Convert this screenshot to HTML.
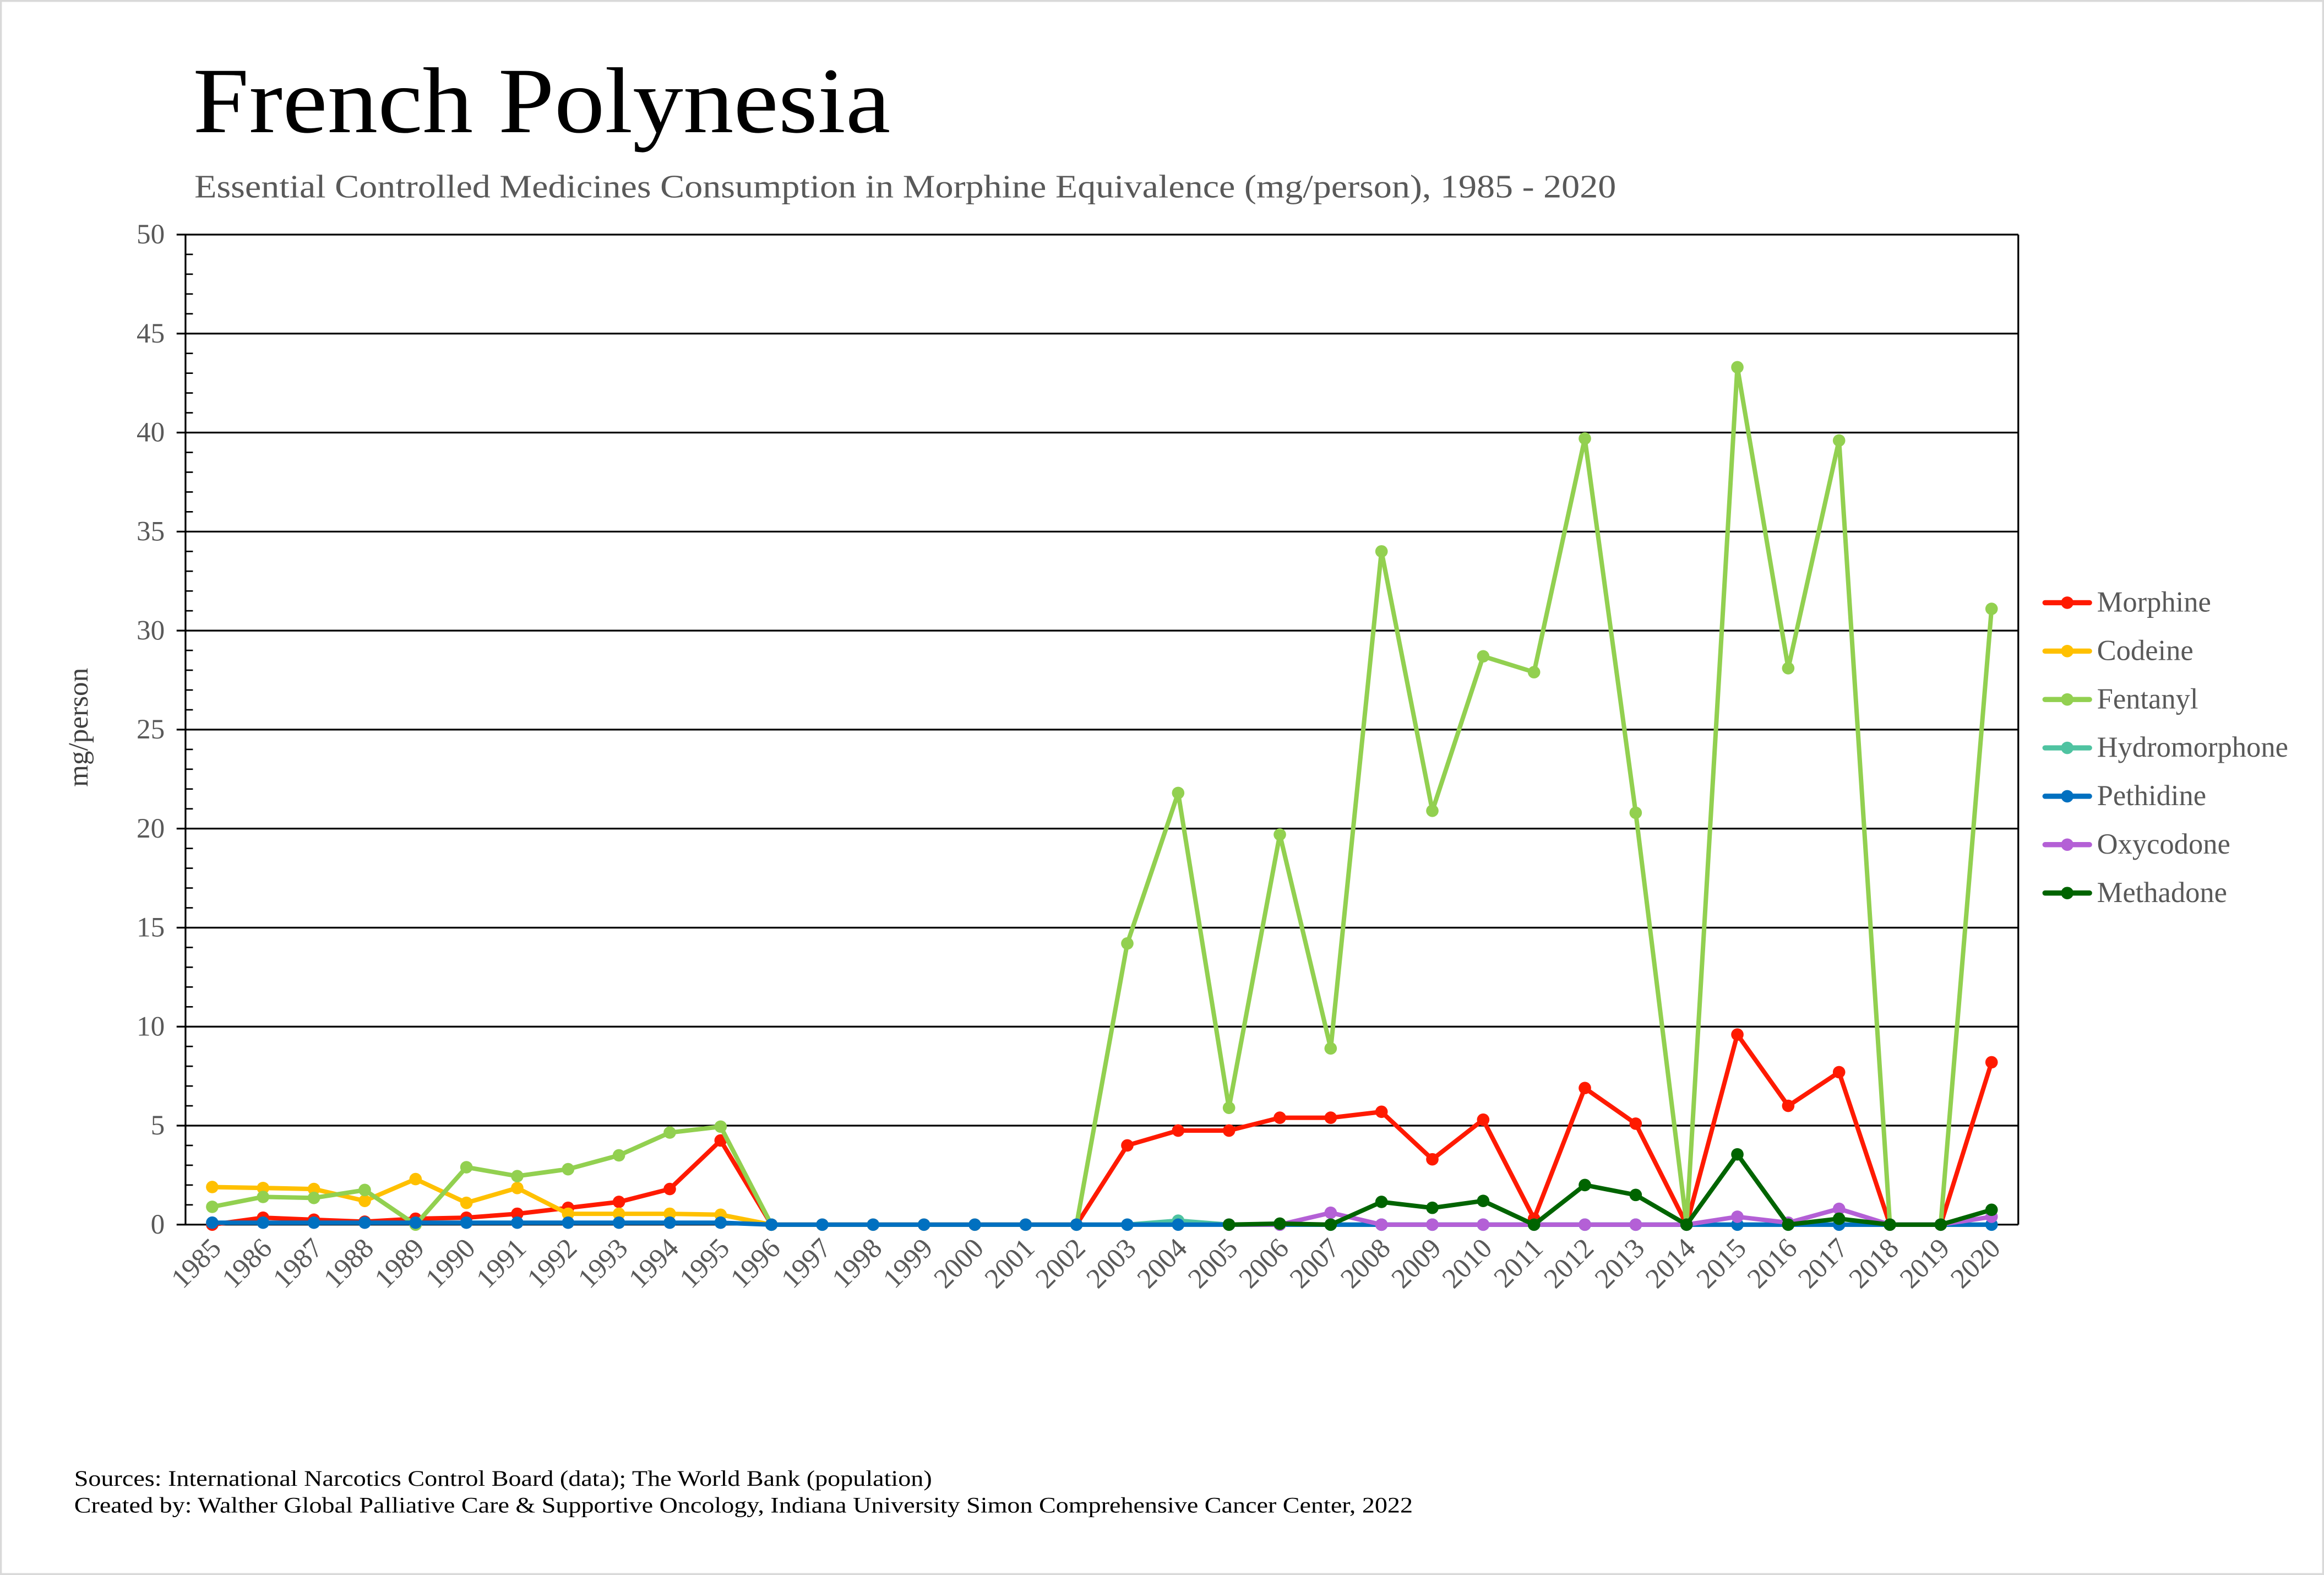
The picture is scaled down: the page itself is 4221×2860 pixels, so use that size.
<!DOCTYPE html>
<html><head><meta charset="utf-8">
<style>
html,body{margin:0;padding:0;background:#fff;}
svg{display:block;}
text{font-family:"Liberation Serif",serif;}
</style></head>
<body>
<svg id="s" width="4221" height="2860" viewBox="0 0 1566 1061" xmlns="http://www.w3.org/2000/svg">
<rect x="0.5" y="0.5" width="1565" height="1060" fill="#fff" stroke="#d9d9d9" stroke-width="1.5"/>
<text x="130" y="89" font-size="63" fill="#000" textLength="470" lengthAdjust="spacingAndGlyphs">French Polynesia</text>
<text x="131" y="133" font-size="22" fill="#595959" textLength="958" lengthAdjust="spacingAndGlyphs">Essential Controlled Medicines Consumption in Morphine Equivalence (mg/person), 1985 - 2020</text>
<text transform="translate(59,490) rotate(-90)" font-size="19" fill="#404040" text-anchor="middle">mg/person</text>
<g id="grid"></g>
<g id="series"></g>
<g id="legend"></g>
<text x="50" y="1001" font-size="15" fill="#000" textLength="578" lengthAdjust="spacingAndGlyphs">Sources: International Narcotics Control Board (data); The World Bank (population)</text>
<text x="50" y="1019" font-size="15" fill="#000" textLength="902" lengthAdjust="spacingAndGlyphs">Created by: Walther Global Palliative Care &amp; Supportive Oncology, Indiana University Simon Comprehensive Cancer Center, 2022</text>
</svg>
<script>
var NS="http://www.w3.org/2000/svg";
function el(t,a,p,txt){var e=document.createElementNS(NS,t);for(var k in a)e.setAttribute(k,a[k]);if(txt!==undefined)e.textContent=txt;p.appendChild(e);return e;}
var X0=143,DX=34.257,Y0=825,DY=13.34,L=125,R=1360;
function xx(i){return X0+i*DX;} function yy(v){return Y0-v*DY;}
var g=document.getElementById('grid');
for(var v=0;v<=50;v+=5){
  el('line',{x1:L-6,x2:R,y1:yy(v),y2:yy(v),stroke:'#000','stroke-width':1.2},g);
  el('text',{x:111,y:yy(v)+6,'font-size':19,fill:'#595959','text-anchor':'end'},g,String(v));
}
for(var v=1;v<50;v++){ if(v%5) el('line',{x1:L,x2:L+5,y1:yy(v),y2:yy(v),stroke:'#000','stroke-width':1},g);}
el('line',{x1:L,x2:L,y1:yy(50),y2:Y0,stroke:'#000','stroke-width':1.2},g);
el('line',{x1:R,x2:R,y1:yy(50),y2:Y0,stroke:'#000','stroke-width':1.2},g);
for(var i=0;i<36;i++){
  el('text',{transform:'translate('+(xx(i)+7)+',842) rotate(-45)','font-size':19,fill:'#595959','text-anchor':'end'},g,String(1985+i));
}
var Z=function(n){var a=[];for(var i=0;i<n;i++)a.push(0);return a;};
var mor=[0,0.35,0.25,0.15,0.3,0.35,0.55,0.85,1.15,1.8,4.25].concat(Z(7),[4.0,4.75,4.75,5.4,5.4,5.7,3.3,5.3,0.3,6.9,5.1,0,9.6,6.0,7.7,0,0,8.2]);
var cod=[1.9,1.85,1.8,1.2,2.3,1.1,1.85,0.55,0.55,0.55,0.5,0];
var fen=[0.9,1.4,1.35,1.75,0,2.9,2.45,2.8,3.5,4.65,4.95].concat(Z(7),[14.2,21.8,5.9,19.7,8.9,34.0,20.9,28.7,27.9,39.7,20.8,0,43.3,28.1,39.6,0,0,31.1]);
var hyd=[];for(var i=0;i<36;i++)hyd.push(i>=17?(i==19?0.2:0):null);
var pet=[];for(var i=0;i<36;i++)pet.push(i<=10?0.1:0);
var oxyv=[0,0,0.6,0,0,0,0,0,0,0,0.4,0.1,0.8,0,0,0.4];
var oxy=[];for(var i=0;i<36;i++)oxy.push(i>=20?oxyv[i-20]:null);
var metv=[0,0.05,0,1.15,0.85,1.2,0,2.0,1.5,0,3.55,0,0.3,0,0,0.75];
var met=[];for(var i=0;i<36;i++)met.push(i>=20?metv[i-20]:null);
var S=[['Morphine','#ff1a00',mor],['Codeine','#ffc000',cod],['Fentanyl','#92d050',fen],['Hydromorphone','#4fc3a1',hyd],['Pethidine','#0070c0',pet],['Oxycodone','#b460d6',oxy],['Methadone','#006400',met]];
var sg=document.getElementById('series'),lg=document.getElementById('legend');
S.forEach(function(s,k){
  var d=s[2],pts=[];
  for(var i=0;i<d.length;i++){if(d[i]!==null&&d[i]!==undefined)pts.push(xx(i).toFixed(1)+','+yy(d[i]).toFixed(1));}
  el('polyline',{points:pts.join(' '),fill:'none',stroke:s[1],'stroke-width':3,'stroke-linejoin':'round'},sg);
  for(var i=0;i<d.length;i++){if(d[i]!==null&&d[i]!==undefined)el('circle',{cx:xx(i),cy:yy(d[i]),r:4.2,fill:s[1]},sg);}
  var ly=406+k*32.6;
  el('line',{x1:1378,x2:1408,y1:ly,y2:ly,stroke:s[1],'stroke-width':3.5,'stroke-linecap':'round'},lg);
  el('circle',{cx:1393,cy:ly,r:4.2,fill:s[1]},lg);
  el('text',{x:1413,y:ly+6,'font-size':19.5,fill:'#595959'},lg,s[0]);
});
</script>
</body></html>
